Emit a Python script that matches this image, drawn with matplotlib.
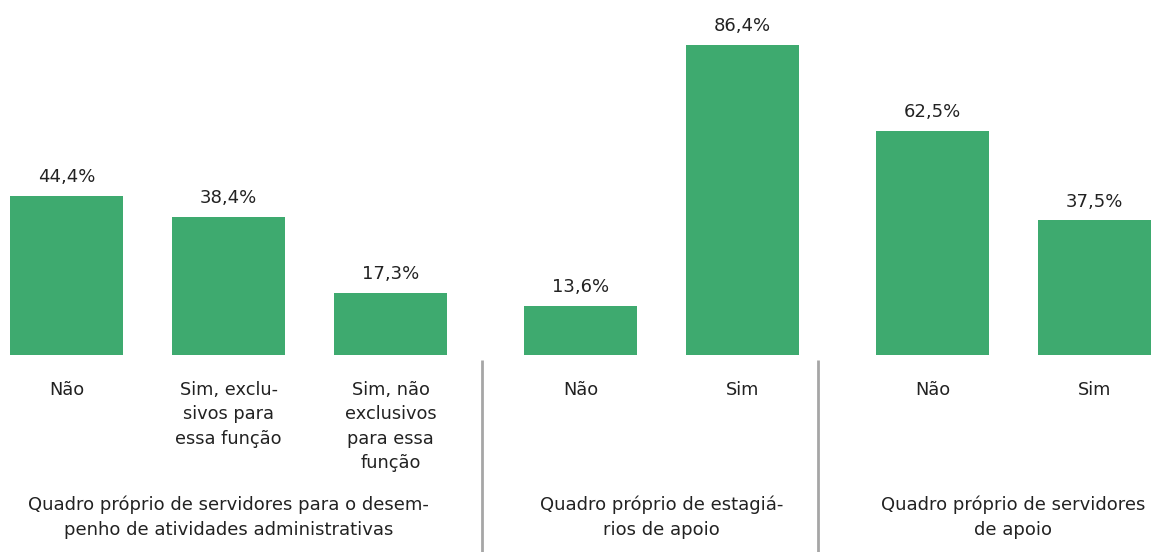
import matplotlib.pyplot as plt

categories = ["Não", "Sim, exclu-\nsivos para\nessa função", "Sim, não\nexclusivos\npara essa\nfunção",
              "Não", "Sim",
              "Não", "Sim"]
values = [44.4, 38.4, 17.3, 13.6, 86.4, 62.5, 37.5]
groups = [0, 0, 0, 1, 1, 2, 2]
group_labels = ["Quadro próprio de servidores para o desem-\npenho de atividades administrativas",
                "Quadro próprio de estagiá-\nrios de apoio",
                "Quadro próprio de servidores\nde apoio"]

green = "#3eaa6f"
txt = "#222222"
plt.rcParams['font.family'] = ['DejaVu Sans']

W, H = 1154, 552
base = 355          # pixel row of bar baseline (from top)
scale = 3.588       # pixels per percent

fig = plt.figure(figsize=(W / 100, H / 100), dpi=100)
ax = fig.add_axes([0, 0, 1, 1])
ax.set_xlim(0, W)
ax.set_ylim(-(H - base) / scale, base / scale)
ax.axis("off")

def py(p):
    # pixel row -> data y
    return (base - p) / scale

xs = [66.5 + 162 * i + 28 * g for i, g in enumerate(groups)]
ax.bar(xs, values, width=113, color=green)

for x, v, c in zip(xs, values, categories):
    ax.annotate(f"{v:.1f}%".replace(".", ","), (x, v), xytext=(0, 7), textcoords="offset points",
                ha="center", va="bottom", fontsize=13, color=txt)
    ax.text(x, py(381), c, ha="center", va="top", fontsize=12.8, color=txt, linespacing=1.45)

for g, lab in enumerate(group_labels):
    gx = [x for x, gg in zip(xs, groups) if gg == g]
    ax.text((min(gx) + max(gx)) / 2, py(496), lab, ha="center", va="top", fontsize=13,
            color=txt, linespacing=1.45)

# separators between groups
for sx in [482, 818]:
    ax.plot([sx, sx], [py(360), py(H)], color="#a6a6a6", lw=2, solid_capstyle="butt")

fig.savefig("out.png", dpi=100)
